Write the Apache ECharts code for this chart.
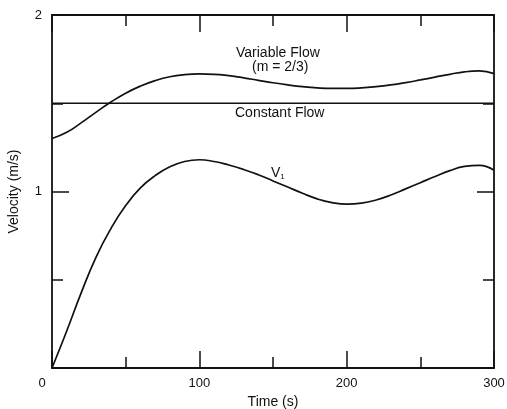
<!DOCTYPE html>
<html>
<head>
<meta charset="utf-8">
<script src="https://cdn.jsdelivr.net/npm/echarts@6/dist/echarts.min.js"></script>
<style>
  html, body { margin: 0; padding: 0; background: #fff; }
  #chart { width: 507px; height: 409px; }
</style>
</head>
<body>
<div id="chart"></div>
<script>
// Time samples (s)
const time = [0, 10, 20, 30, 40, 50, 60, 70, 80, 90, 100, 110, 120, 130, 140, 150,
  160, 170, 180, 190, 200, 210, 220, 230, 240, 250, 260, 270, 280, 290, 300];

// Velocity with variable flow (m = 2/3), m/s
const variableFlow = [1.30, 1.335, 1.39, 1.45, 1.507, 1.557, 1.597, 1.628, 1.65, 1.662,
  1.666, 1.664, 1.656, 1.644, 1.63, 1.616, 1.604, 1.594, 1.587, 1.584, 1.584, 1.587,
  1.594, 1.604, 1.617, 1.632, 1.648, 1.664, 1.678, 1.683, 1.668];

// Velocity V1, m/s
const v1 = [0, 0.21, 0.43, 0.63, 0.79, 0.92, 1.02, 1.09, 1.14, 1.17, 1.18, 1.17, 1.15,
  1.125, 1.095, 1.06, 1.025, 0.99, 0.958, 0.937, 0.928, 0.934, 0.952, 0.98, 1.015,
  1.05, 1.085, 1.118, 1.142, 1.148, 1.12];

// Constant flow velocity, m/s
const constantFlow = [1.5, 1.5];
const constantTime = [0, 300];

const xTickLabels = ['0', '100', '200', '300'];
const yTickLabels = ['1', '2'];

const FONT = '"Liberation Sans", Arial, sans-serif';
const INK = '#111';

const pairs = (xs, ys) => xs.map((x, i) => [x, ys[i]]);

const chart = echarts.init(document.getElementById('chart'), null, { renderer: 'canvas' });

const lineStyle = { color: INK, width: 1.7 };
const axisLine = { show: true, onZero: false, lineStyle: { color: INK, width: 1.8 } };
const majorTick = { show: true, inside: true, length: 17, lineStyle: { color: INK, width: 1.5 } };
const minorTick = { show: true, splitNumber: 2, length: 11, lineStyle: { color: INK, width: 1.5 } };

const option = {
  animation: false,
  backgroundColor: '#fff',
  grid: { left: 52, right: 13, top: 15, bottom: 41, containLabel: false, outerBoundsMode: 'none' },
  xAxis: [
    {
      type: 'value', min: 0, max: 300, interval: 100, position: 'bottom',
      name: 'Time (s)', nameLocation: 'middle', nameGap: 27,
      nameTextStyle: { fontFamily: FONT, fontSize: 14, color: INK },
      axisLine, axisTick: majorTick, minorTick,
      splitLine: { show: false },
      axisLabel: {
        fontFamily: FONT, fontSize: 13, color: INK, margin: 9,
        formatter: v => {
          const s = String(v);
          if (!xTickLabels.includes(s)) return '';
          return s === '0' ? '{z|0}' : s;
        },
        rich: { z: { fontFamily: FONT, fontSize: 13, color: INK, padding: [0, 20, 0, 0] } }
      }
    },
    {
      type: 'value', min: 0, max: 300, interval: 100, position: 'top',
      axisLine, axisTick: majorTick, minorTick,
      axisLabel: { show: false },
      splitLine: { show: false }
    }
  ],
  yAxis: [
    {
      type: 'value', min: 0, max: 2, interval: 1, position: 'left',
      name: 'Velocity (m/s)', nameLocation: 'middle', nameGap: 31, nameRotate: 90,
      nameTextStyle: { fontFamily: FONT, fontSize: 14, color: INK },
      axisLine, axisTick: majorTick, minorTick,
      splitLine: { show: false },
      axisLabel: {
        fontFamily: FONT, fontSize: 13, color: INK, margin: 10,
        formatter: v => (yTickLabels.includes(String(v)) ? String(v) : '')
      }
    },
    {
      type: 'value', min: 0, max: 2, interval: 1, position: 'right',
      axisLine, axisTick: majorTick, minorTick,
      axisLabel: { show: false },
      splitLine: { show: false }
    }
  ],
  series: [
    {
      name: 'Variable Flow', type: 'line', smooth: 0.5, showSymbol: false,
      data: pairs(time, variableFlow), lineStyle
    },
    {
      name: 'Constant Flow', type: 'line', showSymbol: false,
      data: pairs(constantTime, constantFlow), lineStyle
    },
    {
      name: 'V1', type: 'line', smooth: 0.5, showSymbol: false,
      data: pairs(time, v1), lineStyle
    }
  ],
  graphic: [
    {
      type: 'text', left: 236, top: 46,
      style: { text: 'Variable Flow', font: '14px ' + FONT, fill: INK }
    },
    {
      type: 'text', left: 252, top: 60,
      style: { text: '(m = 2/3)', font: '14px ' + FONT, fill: INK }
    },
    {
      type: 'text', left: 235, top: 106,
      style: { text: 'Constant Flow', font: '14px ' + FONT, fill: INK }
    },
    {
      type: 'text', left: 271, top: 166,
      style: {
        text: '{v|V}{s|1}',
        rich: {
          v: { fontFamily: FONT, fontSize: 14, fill: INK },
          s: { fontFamily: FONT, fontSize: 8, fill: INK, padding: [8, 0, 0, 0] }
        }
      }
    }
  ]
};

chart.setOption(option);
</script>
</body>
</html>
